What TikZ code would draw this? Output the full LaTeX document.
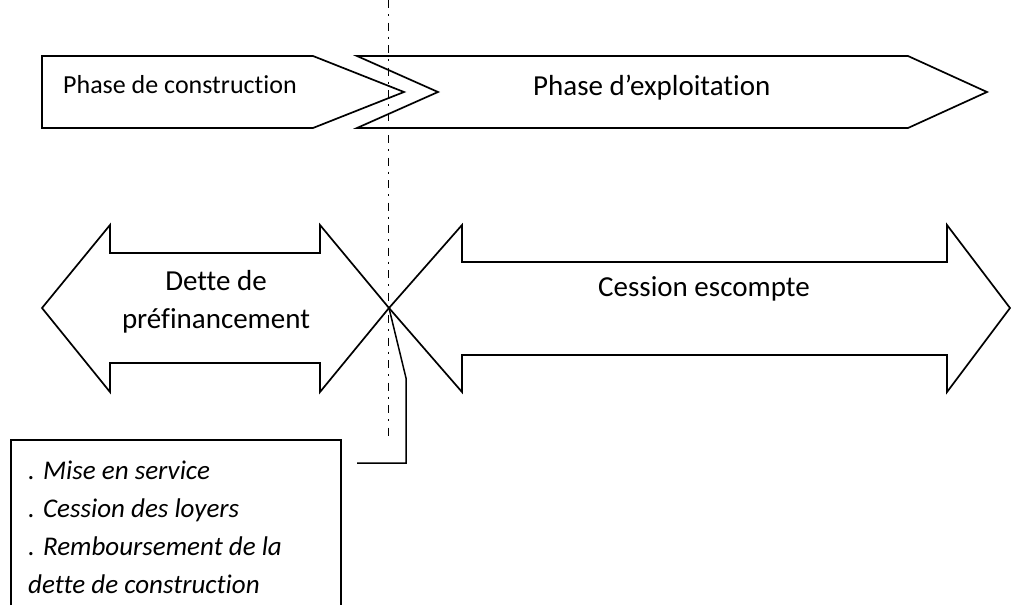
\documentclass[tikz,border=0pt]{standalone}
\usepackage{fontspec}
\setmainfont{Carlito}[Ligatures={NoCommon,NoRare}]
\begin{document}
\begin{tikzpicture}[x=1pt,y=-1pt,
  outline/.style={draw=black,line width=1.7pt,line join=miter},
  thinline/.style={draw=black,line width=1.5pt},
  axis/.style={draw=black,line width=1.7pt,dash pattern=on 8pt off 6pt on 2pt off 6.5pt},
  lbl/.style={anchor=base west,inner sep=0pt,font=\fontsize{29}{36}\selectfont},
  lblsmall/.style={anchor=base west,inner sep=0pt,font=\fontsize{26}{32}\selectfont},
  lblc/.style={anchor=base,inner sep=0pt,font=\fontsize{29}{36}\selectfont},
  boxline/.style={anchor=base west,inner sep=0pt,font=\fontsize{27}{32}\selectfont\itshape}]
\useasboundingbox (0,0) rectangle (1011,605);
% vertical dash-dot axis
\coordinate (axtop) at (388.5,0);
\coordinate (axbot) at (388.5,438);
\draw[axis] (axtop) -- (axbot);
% top arrows
\draw[outline] (42,56) -- (313,56) -- (404,92) -- (313,128) -- (42,128) -- cycle;
\draw[outline] (357,56) -- (908,56) -- (987,92) -- (908,128) -- (357,128) -- (438,92) -- cycle;
\node[lblsmall] (construction) at (63,93) {Phase de construction};
\node[lbl] (exploitation) at (533,95) {Phase d’exploitation};
% bottom double arrows
\coordinate (cross) at (389,308);
\draw[outline] (42,308) -- (110,225) -- (110,253) -- (320,253) -- (320,225) -- (cross)
  -- (320,392) -- (320,363) -- (110,363) -- (110,392) -- cycle;
\draw[outline] (cross) -- (462,225) -- (462,262) -- (947,262) -- (947,225) -- (1010,308)
  -- (947,392) -- (947,355) -- (462,355) -- (462,392) -- cycle;
\node[lblc] (dette1) at (216,290) {Dette de};
\node[lblc] (dette2) at (216,328) {préfinancement};
\node[lbl] (cession) at (598,296) {Cession escompte};
% connector to the box
\coordinate (bend1) at (406,378);
\coordinate (bend2) at (406,463);
\coordinate (cend) at (357,463);
\draw[thinline] (cross) -- (bend1) -- (bend2) -- (cend);
% box
\draw[thinline] (11,605) -- (11,440) -- (341,440) -- (341,605);
\node[boxline] (l1) at (28,479) {. Mise en service};
\node[boxline] (l2) at (28,517) {. Cession des loyers};
\node[boxline] (l3) at (28,555) {. Remboursement de la};
\node[boxline] (l4) at (28,593) {dette de construction};
\end{tikzpicture}
\end{document}
